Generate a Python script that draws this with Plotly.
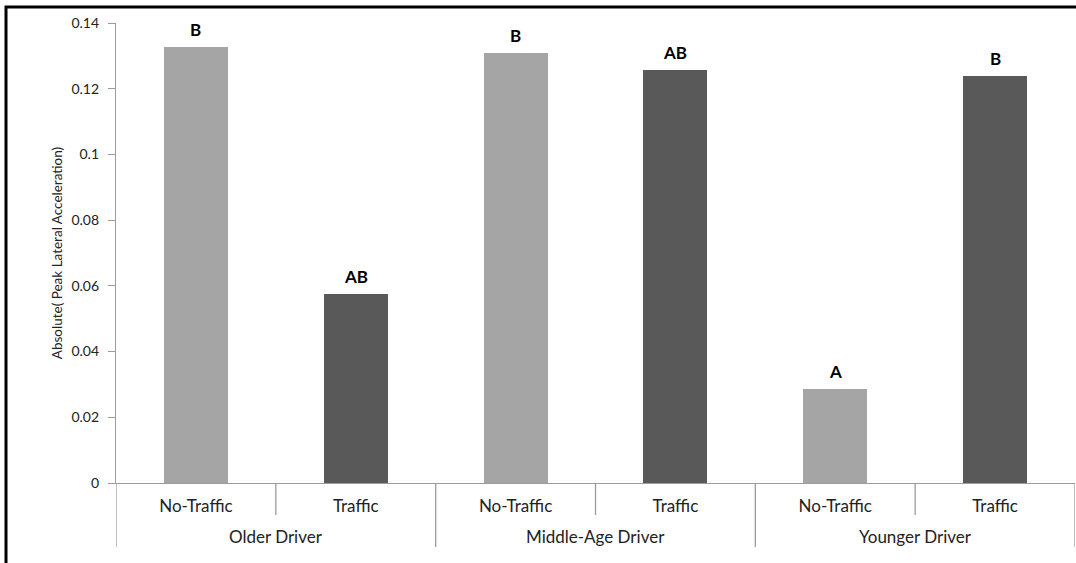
import plotly.graph_objects as go

# data
groups = ["Older Driver", "Older Driver", "Middle-Age Driver", "Middle-Age Driver",
          "Younger Driver", "Younger Driver"]
conditions = ["No-Traffic", "Traffic", "No-Traffic", "Traffic", "No-Traffic", "Traffic"]
values = [0.1327, 0.0575, 0.1309, 0.1257, 0.0286, 0.1239]
letters = ["B", "AB", "B", "AB", "A", "B"]
bar_colors = {"No-Traffic": "#a5a5a5", "Traffic": "#595959"}
y_ticks = [0, 0.02, 0.04, 0.06, 0.08, 0.1, 0.12, 0.14]

FONT = "Lato, 'Open Sans', sans-serif"
GRID = "#9c9c9c"

xs = list(range(len(values)))

fig = go.Figure()
fig.add_trace(go.Bar(
    x=xs, y=values, width=0.4,
    marker=dict(color=[bar_colors[c] for c in conditions], line=dict(width=0)),
    showlegend=False, hoverinfo="skip",
))

# significance letters above the bars
for x, v, t in zip(xs, values, letters):
    fig.add_annotation(x=x, y=v, text="<b>%s</b>" % t, showarrow=False,
                       yanchor="bottom", yshift=5,
                       font=dict(family=FONT, size=17, color="#000"))

# group labels under the sub-category labels
group_names = list(dict.fromkeys(groups))
for g in group_names:
    idx = [i for i, gg in enumerate(groups) if gg == g]
    fig.add_annotation(x=sum(idx) / len(idx), y=-0.117, yref="paper", text=g,
                       showarrow=False, yanchor="middle",
                       font=dict(family=FONT, size=17, color="#222"))

# divider lines below axis (Excel multi-level category look)
for i in range(len(xs) + 1):
    bx = i - 0.5
    is_group_edge = i == 0 or i == len(xs) or groups[i] != groups[i - 1]
    y0 = -0.139 if is_group_edge else -0.0696
    fig.add_shape(type="line", x0=bx, x1=bx, y0=0, y1=y0, xref="x", yref="paper",
                  line=dict(color=GRID, width=1.3))

# black frame on left / top of the picture
fig.add_shape(type="rect", xref="paper", yref="paper",
              x0=-0.1147, x1=1.2, y0=-0.4, y1=1.0348,
              line=dict(color="#000", width=3))

fig.update_layout(
    width=1076, height=563,
    margin=dict(l=116, r=1, t=23, b=80),
    plot_bgcolor="white", paper_bgcolor="white",
    font=dict(family=FONT, color="#222"),
    bargap=0,
)
fig.update_xaxes(
    range=[-0.5, len(xs) - 0.5], tickvals=xs, ticktext=conditions,
    ticks="", showgrid=False, zeroline=False,
    showline=True, linecolor=GRID, linewidth=1.3,
    tickfont=dict(family=FONT, size=17, color="#222"),
    ticklabelstandoff=7,
)
fig.update_yaxes(
    range=[0, 0.14], tickvals=y_ticks, ticktext=[("%g" % v) for v in y_ticks],
    ticks="outside", ticklen=7, tickcolor=GRID,
    showgrid=False, zeroline=False,
    showline=True, linecolor=GRID, linewidth=1.3,
    tickfont=dict(family=FONT, size=14, color="#222"),
    ticklabelstandoff=6,
    title=dict(text="Absolute( Peak Lateral Acceleration)", standoff=5,
               font=dict(family=FONT, size=13.5, color="#222")),
)

# page has a default 8px body margin; drop it so the figure sits at 0,0
fig.write_html("out.html", config={"displayModeBar": False},
               post_script="document.body.style.margin='0';")
